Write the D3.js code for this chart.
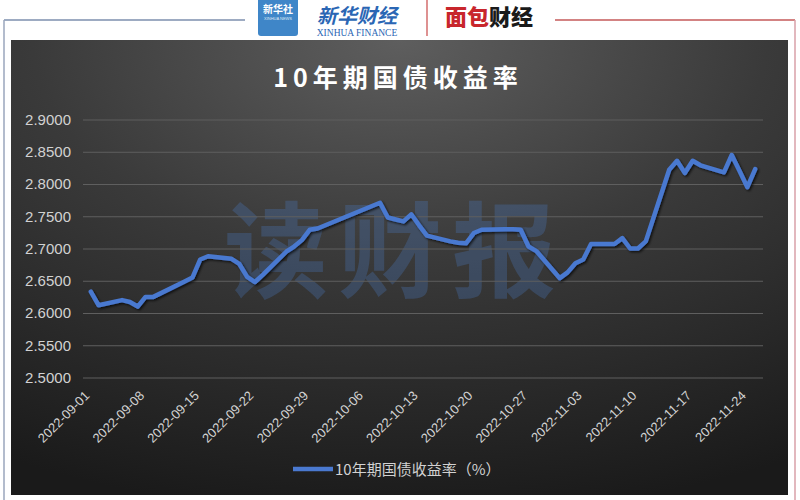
<!DOCTYPE html>
<html><head><meta charset="utf-8">
<script src="https://cdn.jsdelivr.net/npm/d3@7/dist/d3.min.js"></script>
<style>body{margin:0;background:#fff;}svg{display:block;}</style>
</head><body>
<svg id="c" width="800" height="500"></svg>
<script>
const dates = ["2022-09-01","2022-09-02","2022-09-05","2022-09-06","2022-09-07","2022-09-08","2022-09-09","2022-09-13","2022-09-14","2022-09-15","2022-09-16","2022-09-19","2022-09-20","2022-09-21","2022-09-22","2022-09-23","2022-09-26","2022-09-27","2022-09-28","2022-09-29","2022-09-30","2022-10-08","2022-10-09","2022-10-10","2022-10-11","2022-10-12","2022-10-13","2022-10-14","2022-10-17","2022-10-18","2022-10-19","2022-10-20","2022-10-21","2022-10-24","2022-10-25","2022-10-26","2022-10-27","2022-10-28","2022-10-31","2022-11-01","2022-11-02","2022-11-03","2022-11-04","2022-11-07","2022-11-08","2022-11-09","2022-11-10","2022-11-11","2022-11-14","2022-11-15","2022-11-16","2022-11-17","2022-11-18","2022-11-21","2022-11-22","2022-11-23","2022-11-24","2022-11-25"];
const yields = [2.633,2.612,2.620,2.617,2.610,2.625,2.625,2.649,2.655,2.683,2.688,2.684,2.676,2.656,2.648,2.659,2.695,2.703,2.713,2.729,2.731,2.771,2.748,2.745,2.742,2.753,2.736,2.720,2.711,2.709,2.708,2.724,2.729,2.730,2.730,2.729,2.703,2.696,2.654,2.663,2.677,2.683,2.707,2.707,2.716,2.700,2.700,2.711,2.822,2.836,2.817,2.836,2.829,2.818,2.845,2.820,2.795,2.823];
const xTickLabels = ["2022-09-01","2022-09-08","2022-09-15","2022-09-22","2022-09-29","2022-10-06","2022-10-13","2022-10-20","2022-10-27","2022-11-03","2022-11-10","2022-11-17","2022-11-24"];
const yTicks = [2.5,2.55,2.6,2.65,2.7,2.75,2.8,2.85,2.9];
const title = "10年期国债收益率";
const legendLabel = "10年期国债收益率（%）";

const svg = d3.select("#c");
const defs = svg.append("defs");
const rg = defs.append("radialGradient").attr("id","bg").attr("cx","50%").attr("cy","0%").attr("r","105%")
  .attr("gradientUnits","objectBoundingBox");
rg.append("stop").attr("offset","0").attr("stop-color","#5e5e5e");
rg.append("stop").attr("offset","0.45").attr("stop-color","#3a3a3a");
rg.append("stop").attr("offset","1").attr("stop-color","#1a1a1a");
const f = defs.append("filter").attr("id","sh").attr("x","-5%").attr("y","-20%").attr("width","110%").attr("height","140%");
f.append("feDropShadow").attr("dx",1.5).attr("dy",1.5).attr("stdDeviation",1.2).attr("flood-color","#000").attr("flood-opacity",0.7);

// header frame
svg.append("line").attr("x1",4).attr("x2",245).attr("y1",20).attr("y2",20).attr("stroke","#7d8fae").attr("stroke-width",1.5);
svg.append("line").attr("x1",4).attr("x2",4).attr("y1",20).attr("y2",500).attr("stroke","#9aa6bd").attr("stroke-width",1.5);
svg.append("line").attr("x1",555).attr("x2",795).attr("y1",20).attr("y2",20).attr("stroke","#c45a5a").attr("stroke-width",1.5);
svg.append("line").attr("x1",795).attr("x2",795).attr("y1",20).attr("y2",500).attr("stroke","#d9a0a8").attr("stroke-width",1.5);
// logos
svg.append("rect").attr("x",258).attr("y",-4).attr("width",40).attr("height",40).attr("rx",3).attr("fill","#3f86c8");
svg.append("text").attr("x",278).attr("y",13).attr("text-anchor","middle").attr("fill","#fff").attr("font-size",10).attr("font-weight","bold")
  .attr("font-family","Noto Sans CJK SC").text("新华社");
svg.append("text").attr("x",278).attr("y",20).attr("text-anchor","middle").attr("fill","#dfeaf5").attr("font-size",4)
  .attr("font-family","Liberation Sans").text("XINHUA NEWS");
svg.append("text").attr("x",357).attr("y",23).attr("text-anchor","middle").attr("fill","#2a66b4").attr("font-size",20).attr("font-style","italic").attr("font-weight","bold")
  .attr("font-family","Noto Sans CJK SC").text("新华财经");
svg.append("text").attr("x",357).attr("y",36).attr("text-anchor","middle").attr("fill","#2a66b4").attr("font-size",9.5)
  .attr("font-family","Liberation Serif").text("XINHUA FINANCE");
svg.append("line").attr("x1",427).attr("x2",427).attr("y1",0).attr("y2",36).attr("stroke","#c84848").attr("stroke-width",1.2);
const mb = svg.append("text").attr("x",489).attr("y",25).attr("text-anchor","middle").attr("font-size",22).attr("font-weight","900")
  .attr("font-family","Noto Sans CJK SC");
mb.append("tspan").attr("fill","#c8262c").text("面包");
mb.append("tspan").attr("fill","#1a1a1a").text("财经");

// dark panel
svg.append("rect").attr("x",11).attr("y",40).attr("width",777).attr("height",455).attr("fill","url(#bg)");

// title
svg.append("text").attr("x",398).attr("y",87).attr("text-anchor","middle").attr("fill","#fff")
  .attr("font-size",25).attr("font-weight","bold").attr("letter-spacing",5)
  .attr("font-family","'Noto Sans CJK SC', 'Liberation Sans', sans-serif").text(title);

// scales
const parse = d3.timeParse("%Y-%m-%d");
const data = dates.map((d,i)=>({date:parse(d), v:yields[i]}));
const x0 = d3.timeHour.offset(parse(dates[0]), -12);
const x1 = d3.timeHour.offset(parse(dates[dates.length-1]), 36);
const x = d3.scaleTime().domain([x0, x1]).range([83, 763]);
const y = d3.scaleLinear().domain([2.5, 2.9]).range([377.5, 119.5]);
const xMid = d => x(d3.timeHour.offset(d, 12));

// watermark
svg.append("text").attr("x",395).attr("y",290).attr("text-anchor","middle").attr("fill","rgba(75,125,200,0.28)")
  .attr("font-size",104).attr("font-weight","bold").attr("letter-spacing",10)
  .attr("font-family","'Noto Sans CJK SC', sans-serif").text("读财报");

// grid
const yAxis = d3.axisLeft(y).tickValues(yTicks).tickSize(-(763-83)).tickFormat(d3.format(".4f")).tickPadding(12);
const gy = svg.append("g").attr("transform","translate(83,0)").call(yAxis);
gy.select(".domain").remove();
gy.selectAll(".tick line").attr("stroke","#5f5f5f").attr("stroke-width",1);
gy.selectAll(".tick text").attr("fill","#d2d2d2").attr("font-size",15).attr("font-family","'Liberation Sans', Arial, sans-serif");

// x axis labels
const tickDates = xTickLabels.map(parse);
const xAxis = d3.axisBottom(x).tickValues(tickDates.map(d=>d3.timeHour.offset(d,12))).tickSize(0)
  .tickFormat((d,i)=>xTickLabels[i]);
const gx = svg.append("g").attr("transform","translate(0,377.5)").call(xAxis);
gx.select(".domain").remove();
gx.selectAll(".tick text").attr("fill","#d2d2d2").attr("font-size",13).attr("font-family","'Liberation Sans', Arial, sans-serif")
  .attr("text-anchor","end").attr("dy",0).attr("y",0)
  .attr("transform","translate(-1,19) rotate(-45)");

// line
const line = d3.line().x(d=>xMid(d.date)).y(d=>y(d.v));
svg.append("path").datum(data).attr("d",line).attr("fill","none").attr("stroke","#4a79d0")
  .attr("stroke-width",4.5).attr("stroke-linejoin","round").attr("stroke-linecap","round").attr("filter","url(#sh)");

// legend
svg.append("line").attr("x1",293).attr("x2",333).attr("y1",469).attr("y2",469).attr("stroke","#4a79d0").attr("stroke-width",4.5);
svg.append("text").attr("x",335).attr("y",475).attr("fill","#d2d2d2").attr("font-size",15)
  .attr("font-family","'Noto Sans CJK SC', sans-serif").text(legendLabel);
</script>
</body></html>
